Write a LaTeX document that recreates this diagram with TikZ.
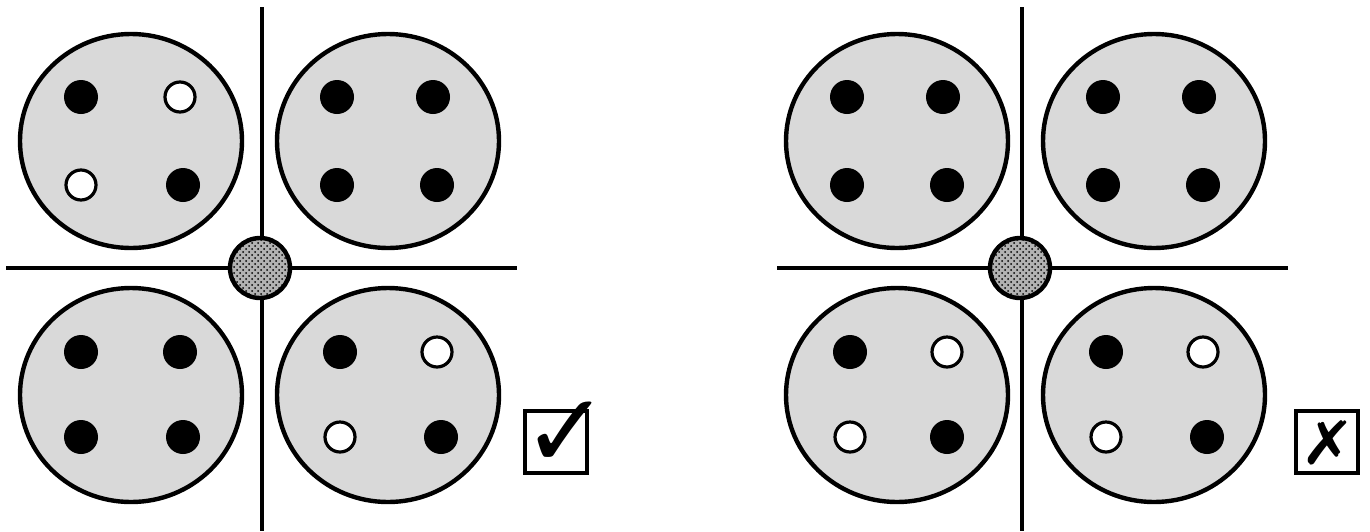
\documentclass[tikz,border=0pt]{standalone}
\usepackage{fontspec}
\newfontfamily\symfont{DejaVu Sans}
\usetikzlibrary{patterns}
\definecolor{platte}{HTML}{D9D9D9}
\begin{document}
\begin{tikzpicture}[x=0.5pt,y=-0.5pt,
  cellule/.style={draw, line width=2.2pt, fill=platte},
  plein/.style={fill=black},
  vide/.style={draw, line width=1.6pt, fill=white},
  axe/.style={line width=1.8pt},
  centre/.style={draw, line width=2.2pt, preaction={fill=gray!60}, pattern=crosshatch dots},
  caisse/.style={draw, line width=2pt, minimum width=31pt, minimum height=31pt, inner sep=0pt}]

\useasboundingbox (0,0) rectangle (1370,531);

% -------------------------------------------------
% Axes et centres
% -------------------------------------------------
\foreach \cx/\ga/\dr in {262/6/517,1022/777/1288}{
  \draw[axe] (\cx,7) -- (\cx,531);
  \draw[axe] (\ga,268) -- (\dr,268);
  \draw[centre] (\cx-2,268) circle[radius=30];
}

% -------------------------------------------------
% Cellules (ellipses grises)
% -------------------------------------------------
\foreach \ex/\ey in {131/141,388/141,131/395,388/395,
                     897/141,1154/141,897/395,1154/395}
  \draw[cellule] (\ex,\ey) ellipse[x radius=111, y radius=107];

% -------------------------------------------------
% Points pleins
% -------------------------------------------------
\foreach \px/\py in {81/97,183/185,
                     337/97,433/97,337/185,437/185,
                     81/352,180/352,81/437,183/437,
                     340/352,441/437,
                     847/97,943/97,847/185,947/185,
                     1103/97,1199/97,1103/185,1203/185,
                     850/352,947/437,
                     1106/352,1207/437}
  \fill[plein] (\px,\py) circle[radius=17];

% -------------------------------------------------
% Points vides
% -------------------------------------------------
\foreach \px/\py in {180/97,81/185,
                     437/352,340/437,
                     947/352,850/437,
                     1203/352,1106/437}
  \draw[vide] (\px,\py) circle[radius=15];

% -------------------------------------------------
% Cases : valide / non valide
% -------------------------------------------------
\node[caisse] (ok) at (556,442) {};
\node[font=\symfont\fontsize{52}{52}\selectfont, inner sep=0pt] (coche) at (566,435) {✓};
\node[caisse] (nok) at (1327,442) {};
\node[font=\symfont\fontsize{30}{30}\selectfont, inner sep=0pt, xscale=1.1] (croix) at (1328,443) {✗};

\end{tikzpicture}
\end{document}
